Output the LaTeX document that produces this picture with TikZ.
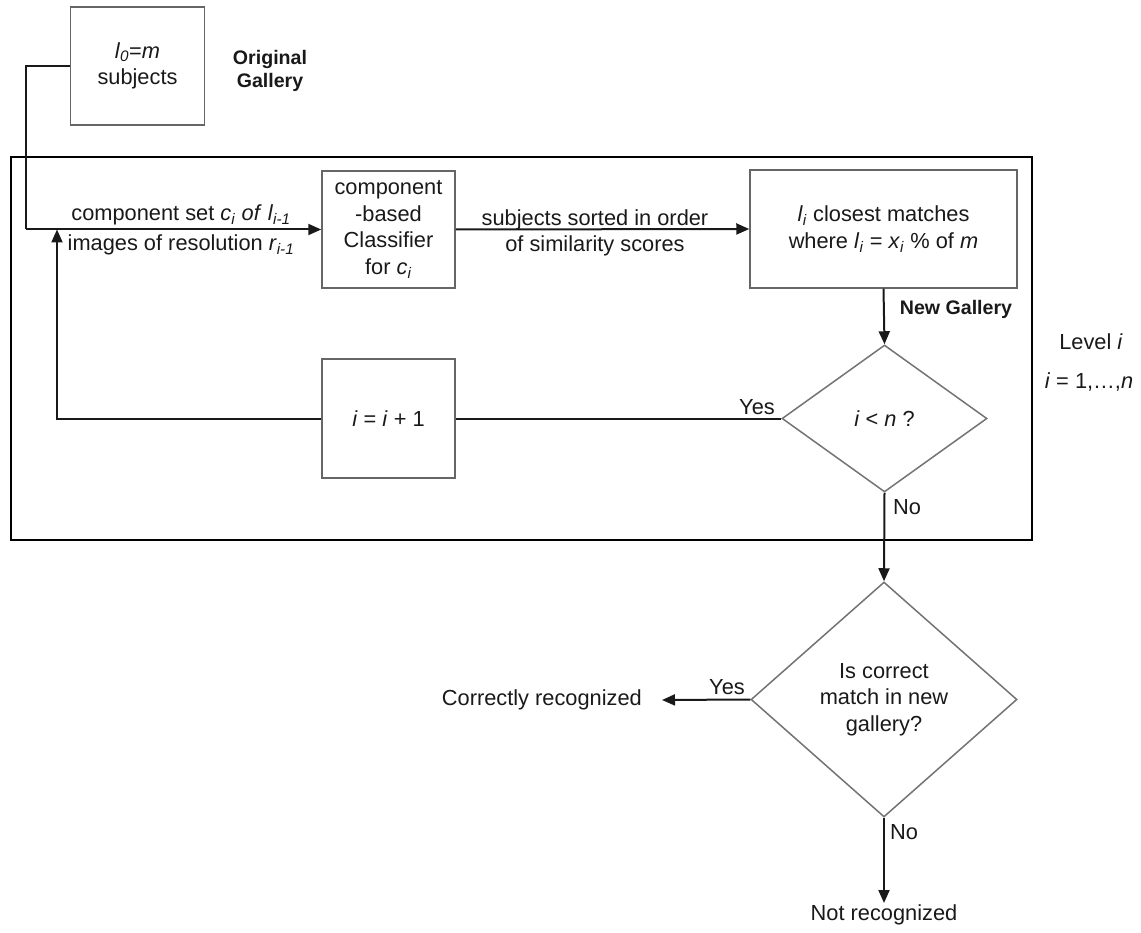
\documentclass[tikz,border=0pt]{standalone}
\usepackage{fontspec}
\setmainfont{Liberation Sans}
\usetikzlibrary{shapes.geometric,arrows.meta}
% italic symbol with italic subscript
\newcommand{\isub}[2]{\textit{#1}\textsubscript{\textit{#2}}}

\begin{document}
\begin{tikzpicture}[x=1pt,y=-1pt,
  every node/.style={font=\fontsize{21.8}{26.7}\selectfont, text=black!90, inner sep=2pt},
  box/.style={draw=black!60, line width=1.5pt, align=center, inner sep=0pt},
  decision/.style={draw=black!55, line width=1.5pt, shape=diamond, align=center, inner sep=0pt},
  frame/.style={draw=black, line width=2.5pt, inner sep=0pt},
  flow/.style={draw=black!90, line width=2pt},
  arr/.style={flow, -{Triangle[length=13pt,width=11pt]}},
  boldlabel/.style={font=\fontsize{19.6}{23}\selectfont\bfseries, align=center}
]
\useasboundingbox (0,0) rectangle (1141,933);

% level frame
\node[frame, minimum width=1021pt, minimum height=383pt] (frame) at (521.5,348.5) {};

% boxes
\node[box, minimum width=134pt, minimum height=118pt] (top) at (137.5,66)
  {\isub{l}{0}=\textit{m}\\subjects};
\node[boldlabel] (orig) at (270,71) {Original\\Gallery};

\node[box, minimum width=133pt, minimum height=117pt] (clf) at (388.5,229.5)
  {component\\-based\\Classifier\\for \isub{c}{i}};
\node[box, minimum width=267pt, minimum height=118pt] (match) at (883.5,229)
  {\isub{l}{i} closest matches\\where \isub{l}{i} = \isub{x}{i} \% of \textit{m}};
\node[box, minimum width=133pt, minimum height=119pt] (inc) at (388.5,418.5)
  {\textit{i} = \textit{i} + 1};

% decisions
\node[decision, aspect=1.4, minimum width=205pt, minimum height=147pt] (dec1) at (884.5,418.5)
  {\textit{i} < \textit{n} ?};
\node[decision, aspect=1.13, minimum width=266pt, minimum height=235pt] (dec2) at (884,699.5)
  {Is correct\\match in new\\gallery?};

% outcomes
\node[anchor=east, inner xsep=20pt] (ok) at (662,700) {Correctly recognized};
\node[anchor=north, inner sep=1pt] (nok) at (884,903) {Not recognized};

% side labels
\node (lvl) at (1091,342) {Level \textit{i}};
\node (rng) at (1089,382) {\textit{i} = 1,…,\textit{n}};

% connector helpers
\coordinate (inleft) at (26,229.5);
\coordinate (loopup) at (57,229.5);

% connectors
\draw[flow] (top.west) -| (inleft);
\draw[arr] (inleft) -- (clf.west);
\draw[arr] (inc.west) -| (loopup);
\draw[arr] (clf.east) -- (match.west);
\draw[arr] (match.south) -- (dec1.north);
\draw[flow] (dec1.west) -- (inc.east);
\draw[arr] (dec1.south) -- (dec2.north);
\draw[arr] (dec2.west) -- (ok.east);
\draw[arr] (dec2.south) -- (nok.north);

% connector labels
\node[anchor=base] (lblA) at (181,221) {component set \isub{c}{i} \textit{of} \isub{l}{i-1}};
\node[anchor=base] (lblB) at (181,251) {images of resolution \isub{r}{i-1}};
\node[anchor=base] (lblC) at (595,225.5) {subjects sorted in order};
\node[anchor=base] (lblD) at (595,252) {of similarity scores};
\node[boldlabel] (newg) at (956,309) {New Gallery};
\node (yes1) at (757,407) {Yes};
\node (no1) at (907,507) {No};
\node (yes2) at (727,687) {Yes};
\node (no2) at (904,832) {No};
\end{tikzpicture}
\end{document}
